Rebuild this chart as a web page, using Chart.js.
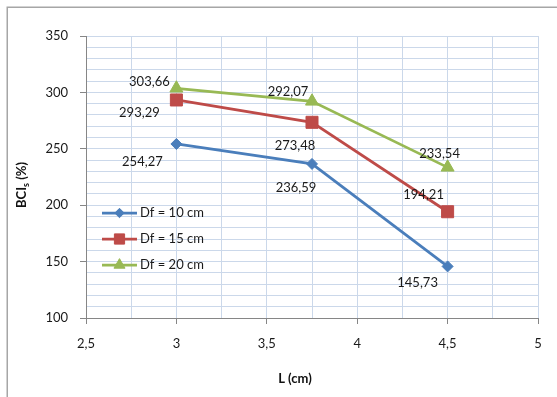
<!DOCTYPE html>
<html>
<head>
<meta charset="utf-8">
<script src="https://cdn.jsdelivr.net/npm/chart.js@4/dist/chart.umd.min.js"></script>
<style>
  html, body { margin: 0; padding: 0; background: #ffffff; }
  canvas { display: block; }
</style>
</head>
<body>
<canvas id="chart" width="557" height="397"></canvas>
<script>
// Footing length L (cm) and bearing capacity improvement BCIs (%)
const lengths = [3, 3.75, 4.5];
const bciDf10 = [254.27, 236.59, 145.73];
const bciDf15 = [293.29, 273.48, 194.21];
const bciDf20 = [303.66, 292.07, 233.54];
const seriesNames = ['Df = 10 cm', 'Df = 15 cm', 'Df = 20 cm'];
const xTickLabels = ['2,5', '3', '3,5', '4', '4,5', '5'];
const yTickLabels = ['100', '150', '200', '250', '300', '350'];

const colors = ['#4a7ebb', '#be4b48', '#98b954'];
const markers = [
  { style: 'rectRot', radius: 5.5 },
  { style: 'rect', radius: 8.5 },
  { style: 'triangle', radius: 7.5 }
];
// value label offsets from each point, per series
const labelOffsets = [
  [[-34, 18], [-16, 24], [-30, 16]],
  [[-37, 13], [-17, 23], [-24, -17]],
  [[-27, -6], [-24, -10], [-8, -14]]
];

const fmt = v => v.toFixed(2).replace('.', ',');
const toPoints = arr => arr.map((y, i) => ({ x: lengths[i], y }));

const xLabelFor = v => {
  const s = String(v).replace('.', ',');
  return xTickLabels.includes(s) ? s : '';
};
const yLabelFor = v => {
  const s = String(v);
  return yTickLabels.includes(s) ? s : '';
};

const frame = {
  id: 'frame',
  beforeDraw(chart) {
    const ctx = chart.ctx;
    ctx.save();
    ctx.fillStyle = '#ffffff';
    ctx.fillRect(0, 0, chart.width, chart.height);
    ctx.strokeStyle = '#a6a6a6';
    ctx.lineWidth = 1.5;
    ctx.strokeRect(7.25, 7.25, 700, 600);
    ctx.restore();
  }
};

const titles = {
  id: 'titles',
  afterDraw(chart) {
    const ctx = chart.ctx;
    ctx.save();
    ctx.fillStyle = '#111';
    ctx.textBaseline = 'alphabetic';
    // x title
    ctx.font = 'bold 13px Lato';
    ctx.textAlign = 'center';
    ctx.fillText('L (cm)', 295, 383);
    // y title with subscript s
    ctx.translate(26, 185);
    ctx.rotate(-Math.PI / 2);
    ctx.textAlign = 'left';
    ctx.font = 'bold 13px Lato';
    const w1 = ctx.measureText('BCI').width;
    ctx.font = 'bold 9px Lato';
    const w2 = ctx.measureText('s').width;
    ctx.font = 'bold 13px Lato';
    const w3 = ctx.measureText(' (%)').width;
    let x = -(w1 + w2 + w3) / 2;
    ctx.fillText('BCI', x, 0);
    x += w1;
    ctx.font = 'bold 9px Lato';
    ctx.fillText('s', x, 3);
    x += w2;
    ctx.font = 'bold 13px Lato';
    ctx.fillText(' (%)', x, 0);
    ctx.restore();
  }
};

const valueLabels = {
  id: 'valueLabels',
  afterDatasetsDraw(chart) {
    const ctx = chart.ctx;
    ctx.save();
    ctx.font = '13px Lato';
    ctx.fillStyle = '#1a1a1a';
    ctx.textAlign = 'center';
    ctx.textBaseline = 'middle';
    chart.data.datasets.forEach((ds, di) => {
      const meta = chart.getDatasetMeta(di);
      meta.data.forEach((pt, i) => {
        const [dx, dy] = labelOffsets[di][i];
        ctx.fillText(fmt(ds.data[i].y), pt.x + dx, pt.y + dy);
      });
    });
    ctx.restore();
  }
};

const innerLegend = {
  id: 'innerLegend',
  afterDatasetsDraw(chart) {
    const ctx = chart.ctx;
    const rows = [213, 239, 265];
    ctx.save();
    chart.data.datasets.forEach((ds, di) => {
      const y = rows[di];
      ctx.strokeStyle = colors[di];
      ctx.lineWidth = 2.75;
      ctx.beginPath();
      ctx.moveTo(102, y);
      ctx.lineTo(137, y);
      ctx.stroke();
      ctx.fillStyle = colors[di];
      ctx.lineWidth = 1;
      Chart.helpers.drawPoint(ctx, {
        pointStyle: markers[di].style,
        radius: markers[di].radius * 0.85,
        rotation: 0,
        borderWidth: 1
      }, 119.5, y);
      ctx.font = '13px Lato';
      ctx.fillStyle = '#1a1a1a';
      ctx.textAlign = 'left';
      ctx.textBaseline = 'middle';
      ctx.fillText(ds.label, 140, y);
    });
    ctx.restore();
  }
};

function build() {
  Chart.defaults.font.family = 'Lato';
  Chart.defaults.font.size = 13;
  Chart.defaults.color = '#1a1a1a';

  const series = [bciDf10, bciDf15, bciDf20];
  new Chart(document.getElementById('chart'), {
    type: 'scatter',
    data: {
      datasets: series.map((vals, i) => ({
        label: seriesNames[i],
        data: toPoints(vals),
        showLine: true,
        borderColor: colors[i],
        backgroundColor: colors[i],
        borderWidth: 2.75,
        pointStyle: markers[i].style,
        pointRadius: markers[i].radius,
        pointHoverRadius: markers[i].radius,
        pointBorderWidth: 1,
        pointBorderColor: colors[i],
        pointBackgroundColor: colors[i]
      }))
    },
    options: {
      responsive: false,
      animation: false,
      events: [],
      layout: { padding: { left: 0, top: 36, right: 19, bottom: 0 } },
      plugins: {
        legend: { display: false },
        tooltip: { enabled: false }
      },
      scales: {
        x: {
          type: 'linear',
          min: 2.5,
          max: 5,
          afterFit: s => { s.height = 79; },
          ticks: {
            stepSize: 0.25,
            autoSkip: false,
            maxRotation: 0,
            padding: 12,
            color: '#1a1a1a',
            font: { size: 13 },
            callback: v => xLabelFor(v)
          },
          grid: {
            color: '#cbd8ea',
            lineWidth: 1,
            tickLength: 6,
            tickColor: c => (c.tick && xLabelFor(c.tick.value) !== '') ? '#868686' : 'rgba(0,0,0,0)'
          },
          border: { color: '#868686', width: 1 }
        },
        y: {
          type: 'linear',
          min: 100,
          max: 350,
          afterFit: s => { s.width = 86; },
          ticks: {
            stepSize: 10,
            autoSkip: false,
            padding: 12,
            color: '#1a1a1a',
            font: { size: 13 },
            callback: v => yLabelFor(v)
          },
          grid: {
            color: '#cbd8ea',
            lineWidth: 1,
            tickLength: 6,
            tickColor: c => (c.tick && yLabelFor(c.tick.value) !== '') ? '#868686' : 'rgba(0,0,0,0)'
          },
          border: { color: '#868686', width: 1 }
        }
      }
    },
    plugins: [frame, valueLabels, innerLegend, titles]
  });
}

Promise.all([
  document.fonts.load('13px Lato'),
  document.fonts.load('bold 13px Lato')
]).then(build, build);
</script>
</body>
</html>
